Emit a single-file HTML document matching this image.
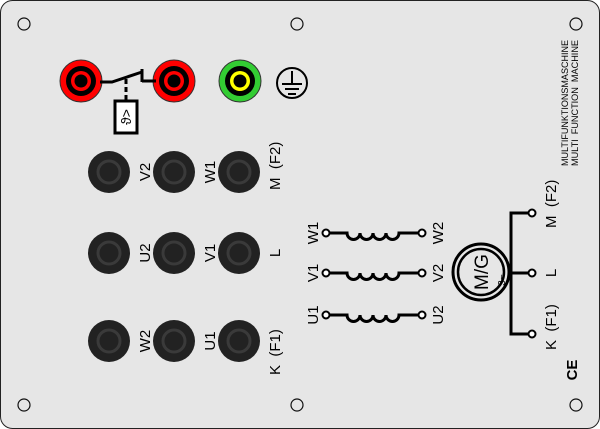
<!DOCTYPE html>
<html><head><meta charset="utf-8"><style>html,body{margin:0;padding:0;background:#fff}svg{display:block}</style></head>
<body>
<svg width="600" height="429" viewBox="0 0 600 429" xmlns="http://www.w3.org/2000/svg" font-family="Liberation Sans, DejaVu Sans, sans-serif">
<rect x="0.5" y="0.5" width="599" height="428" rx="12" fill="#e6e6e6" stroke="#222" stroke-width="1"/>
<g fill="none" stroke="#111" stroke-width="1.2">
<circle cx="24" cy="24" r="6"/><circle cx="297" cy="24" r="6"/><circle cx="576" cy="24" r="6"/>
<circle cx="24" cy="405" r="6"/><circle cx="297" cy="405" r="6"/><circle cx="576" cy="405" r="6"/>
</g>
<g>
<circle cx="81" cy="81" r="21" fill="#f00" stroke="#333" stroke-width="1"/><circle cx="81" cy="81" r="15" fill="#000"/><circle cx="81" cy="81" r="10" fill="#f00"/><circle cx="81" cy="81" r="6.5" fill="#000"/>
<circle cx="174" cy="81" r="21" fill="#f00" stroke="#333" stroke-width="1"/><circle cx="174" cy="81" r="15" fill="#000"/><circle cx="174" cy="81" r="10" fill="#f00"/><circle cx="174" cy="81" r="6.5" fill="#000"/>
<circle cx="240" cy="81" r="21" fill="#3c3" stroke="#333" stroke-width="1"/><circle cx="240" cy="81" r="15" fill="#000"/><circle cx="240" cy="81" r="10" fill="#ff0"/><circle cx="240" cy="81" r="6.5" fill="#000"/>
</g>
<circle cx="292" cy="83" r="15" fill="none" stroke="#000" stroke-width="2"/>
<g stroke="#000" stroke-width="2"><line x1="292" y1="71" x2="292" y2="84"/><line x1="282" y1="84" x2="302" y2="84"/><line x1="285" y1="89" x2="299" y2="89"/><line x1="288" y1="94" x2="296" y2="94"/></g>
<g stroke="#000" stroke-width="3" fill="none">
<polyline points="100,82 112,82 142,72"/><line x1="142" y1="69" x2="142" y2="82"/><line x1="142" y1="81" x2="156" y2="81"/>
<line x1="126" y1="79" x2="126" y2="100" stroke-dasharray="5,3"/>
</g>
<rect x="115" y="101" width="22" height="32" fill="#fff" stroke="#000" stroke-width="3"/>
<text transform="translate(131,117) rotate(-90)" font-size="14" text-anchor="middle" fill="#000">ϑ&gt;</text>
<g fill="#222">
<circle cx="109" cy="172" r="21"/><circle cx="174" cy="172" r="21"/><circle cx="239" cy="172" r="21"/>
<circle cx="109" cy="253" r="21"/><circle cx="174" cy="253" r="21"/><circle cx="239" cy="253" r="21"/>
<circle cx="109" cy="341" r="21"/><circle cx="174" cy="341" r="21"/><circle cx="239" cy="341" r="21"/>
</g>
<g fill="none" stroke="#3a3a3a" stroke-width="3">
<circle cx="109" cy="172" r="11"/><circle cx="174" cy="172" r="11"/><circle cx="239" cy="172" r="11"/>
<circle cx="109" cy="253" r="11"/><circle cx="174" cy="253" r="11"/><circle cx="239" cy="253" r="11"/>
<circle cx="109" cy="341" r="11"/><circle cx="174" cy="341" r="11"/><circle cx="239" cy="341" r="11"/>
</g>
<g fill="#000" font-size="15">
<text transform="translate(150,172) rotate(-90)" text-anchor="middle">V2</text>
<text transform="translate(215,172) rotate(-90)" text-anchor="middle">W1</text>
<text transform="translate(280,190) rotate(-90)" text-anchor="start" xml:space="preserve">M  (F2)</text>
<text transform="translate(150,253) rotate(-90)" text-anchor="middle">U2</text>
<text transform="translate(215,253) rotate(-90)" text-anchor="middle">V1</text>
<text transform="translate(280,253) rotate(-90)" text-anchor="middle">L</text>
<text transform="translate(150,341) rotate(-90)" text-anchor="middle">W2</text>
<text transform="translate(215,341) rotate(-90)" text-anchor="middle">U1</text>
<text transform="translate(280,375) rotate(-90)" text-anchor="start" xml:space="preserve">K  (F1)</text>
<text transform="translate(318,233) rotate(-90)" text-anchor="middle">W1</text>
<text transform="translate(318,273) rotate(-90)" text-anchor="middle">V1</text>
<text transform="translate(318,315) rotate(-90)" text-anchor="middle">U1</text>
<text transform="translate(443,233) rotate(-90)" text-anchor="middle">W2</text>
<text transform="translate(443,273) rotate(-90)" text-anchor="middle">V2</text>
<text transform="translate(443,315) rotate(-90)" text-anchor="middle">U2</text>
<text transform="translate(556,228) rotate(-90)" text-anchor="start" xml:space="preserve">M  (F2)</text>
<text transform="translate(556,273) rotate(-90)" text-anchor="middle">L</text>
<text transform="translate(556,350) rotate(-90)" text-anchor="start" xml:space="preserve">K  (F1)</text>
</g>
<g stroke="#000" stroke-width="3" fill="none">
<path d="M329,233 H347 a6.5,6.5 0 0 0 13,0 a6.5,6.5 0 0 0 13,0 a6.5,6.5 0 0 0 13,0 a6.5,6.5 0 0 0 13,0 H419"/>
<path d="M329,273 H347 a6.5,6.5 0 0 0 13,0 a6.5,6.5 0 0 0 13,0 a6.5,6.5 0 0 0 13,0 a6.5,6.5 0 0 0 13,0 H419"/>
<path d="M329,315 H347 a6.5,6.5 0 0 0 13,0 a6.5,6.5 0 0 0 13,0 a6.5,6.5 0 0 0 13,0 a6.5,6.5 0 0 0 13,0 H419"/>
</g>
<g fill="#fff" stroke="#000" stroke-width="2">
<circle cx="326" cy="233" r="3.5"/><circle cx="422" cy="233" r="3.5"/>
<circle cx="326" cy="273" r="3.5"/><circle cx="422" cy="273" r="3.5"/>
<circle cx="326" cy="315" r="3.5"/><circle cx="422" cy="315" r="3.5"/>
</g>
<circle cx="481" cy="272" r="28" fill="none" stroke="#000" stroke-width="3"/>
<circle cx="481" cy="272" r="23" fill="none" stroke="#000" stroke-width="2.5"/>
<text transform="translate(488,272) rotate(-90)" text-anchor="middle" font-size="19" fill="#000">M/G</text>
<text transform="translate(505,280) rotate(-90)" text-anchor="middle" font-size="10" fill="#000">3~</text>
<g stroke="#000" stroke-width="3" fill="none">
<polyline points="530,213 511,213 511,334 530,334"/><line x1="511" y1="273" x2="530" y2="273"/>
</g>
<g fill="#fff" stroke="#000" stroke-width="2">
<circle cx="532" cy="213" r="3.5"/><circle cx="532" cy="273" r="3.5"/><circle cx="532" cy="334" r="3.5"/>
</g>
<text transform="translate(577,370) rotate(-90)" text-anchor="middle" font-size="15" font-weight="bold" fill="#000">CE</text>
<g fill="#000" font-size="9">
<text transform="translate(568,166) rotate(-90)" textLength="126" lengthAdjust="spacingAndGlyphs">MULTIFUNKTIONSMASCHINE</text>
<text transform="translate(578,166) rotate(-90)" textLength="126" lengthAdjust="spacingAndGlyphs" xml:space="preserve">MULTI  FUNCTION  MACHINE</text>
</g>
</svg>
</body></html>
